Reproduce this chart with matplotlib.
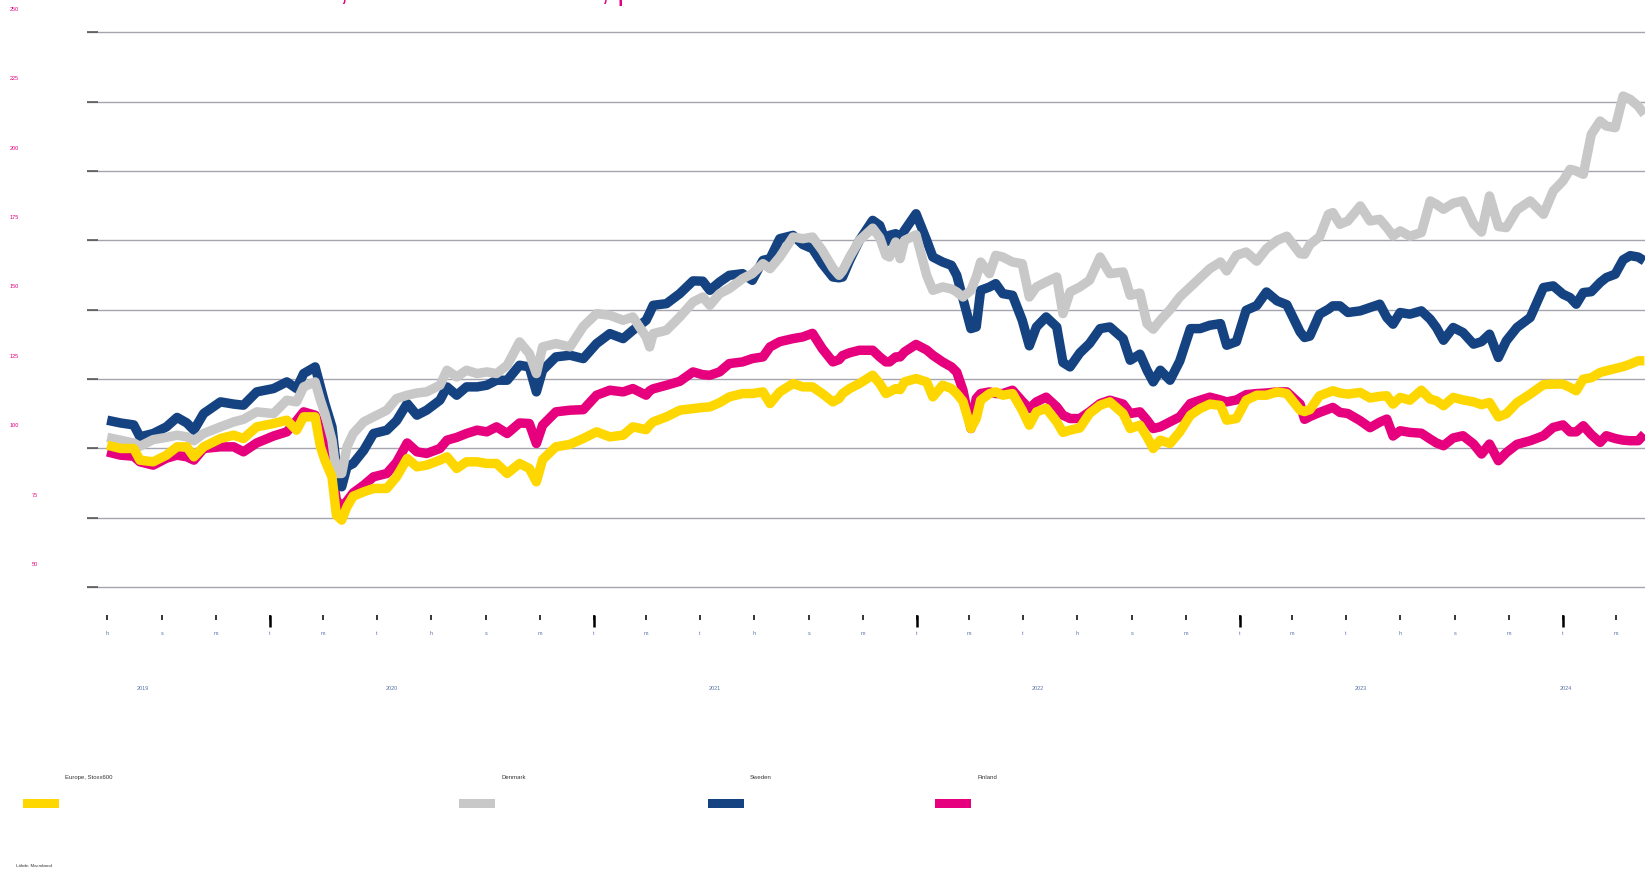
import pandas as pd
import matplotlib.pyplot as plt
import matplotlib.dates as mdates
from matplotlib.patches import Rectangle
from matplotlib.ticker import FuncFormatter
from matplotlib.transforms import blended_transform_factory

plt.rcParams['font.family'] = ['Liberation Sans', 'DejaVu Sans']

# roughly every two weeks
dates = [
    "2019-07-01", "2019-07-16", "2019-07-31", "2019-08-07", "2019-08-22", "2019-09-06",
    "2019-09-18", "2019-09-29", "2019-10-07", "2019-10-18", "2019-11-06", "2019-11-21",
    "2019-12-02", "2019-12-17", "2020-01-05", "2020-01-20", "2020-01-31", "2020-02-08",
    "2020-02-21", "2020-02-27", "2020-03-03", "2020-03-11", "2020-03-16", "2020-03-22",
    "2020-03-28", "2020-04-04", "2020-04-16", "2020-04-27", "2020-05-12", "2020-05-23",
    "2020-06-04", "2020-06-15", "2020-06-26", "2020-07-11", "2020-07-19", "2020-07-30",
    "2020-08-10", "2020-08-22", "2020-09-02", "2020-09-13", "2020-09-25", "2020-10-09",
    "2020-10-20", "2020-10-28", "2020-11-04", "2020-11-19", "2020-12-05", "2020-12-20",
    "2021-01-04", "2021-01-19", "2021-02-03", "2021-02-14", "2021-03-01", "2021-03-05",
    "2021-03-09", "2021-03-24", "2021-04-08", "2021-04-23", "2021-05-04", "2021-05-12",
    "2021-05-23", "2021-06-03", "2021-06-18", "2021-06-29", "2021-07-11", "2021-07-19",
    "2021-07-30", "2021-08-14", "2021-08-25", "2021-09-05", "2021-09-16", "2021-09-28",
    "2021-10-05", "2021-10-09", "2021-10-17", "2021-10-28", "2021-11-12", "2021-11-20",
    "2021-11-27", "2021-12-01", "2021-12-08", "2021-12-13", "2021-12-18", "2021-12-31",
    "2022-01-12", "2022-01-19", "2022-01-30", "2022-02-09", "2022-02-15", "2022-02-22",
    "2022-03-03", "2022-03-09", "2022-03-14", "2022-03-24", "2022-03-31", "2022-04-08",
    "2022-04-19", "2022-04-30", "2022-05-08", "2022-05-16", "2022-05-27", "2022-06-08",
    "2022-06-15", "2022-06-23", "2022-07-04", "2022-07-15", "2022-07-27", "2022-08-07",
    "2022-08-22", "2022-08-30", "2022-09-10", "2022-09-18", "2022-09-25", "2022-10-03",
    "2022-10-14", "2022-10-25", "2022-11-06", "2022-11-17", "2022-11-28", "2022-12-10",
    "2022-12-17", "2022-12-28", "2023-01-08", "2023-01-20", "2023-01-31", "2023-02-12",
    "2023-02-23", "2023-03-10", "2023-03-15", "2023-03-21", "2023-04-01", "2023-04-11",
    "2023-04-16", "2023-04-24", "2023-05-03", "2023-05-17", "2023-05-28", "2023-06-08",
    "2023-06-16", "2023-06-23", "2023-07-01", "2023-07-12", "2023-07-25", "2023-08-04",
    "2023-08-11", "2023-08-19", "2023-08-30", "2023-09-10", "2023-09-22", "2023-10-01",
    "2023-10-10", "2023-10-20", "2023-10-29", "2023-11-10", "2023-11-25", "2023-12-10",
    "2023-12-21", "2024-01-01", "2024-01-09", "2024-01-16", "2024-01-24", "2024-02-02",
    "2024-02-12", "2024-02-19", "2024-02-29", "2024-03-09", "2024-03-17", "2024-03-26",
    "2024-04-02",
]

europe = [
    101.2, 100, 100, 95.8, 95.2, 97.6, 100.6, 100.6, 97, 100.6, 103.6, 104.8,
    103.6, 107.8, 109, 110.2, 106.6, 111.4, 111.4, 100.6, 95.8, 89.8, 76, 74.2,
    79, 82.8, 84.4, 85.6, 85.6, 89.8, 96.4, 93.4, 94, 95.8, 97, 92.8,
    95.2, 95.2, 94.6, 94.6, 91, 94.6, 92.8, 88, 96, 100.6, 101.5, 103.6,
    106, 104.2, 104.8, 107.8, 106.8, 108.4, 109.6, 111.4, 113.8, 114.4, 114.8, 115,
    116.5, 118.6, 119.8, 119.8, 120.4, 116.2, 120.4, 123.4, 122.2, 122.2, 119.8, 116.8,
    118, 119.8, 121.6, 123.4, 126.4, 123.4, 119.8, 120.4, 121.6, 121.2, 124, 125.2,
    124, 118.6, 122.8, 121.6, 119.8, 117, 107.2, 110.8, 117.4, 119.8, 120.4, 119.2,
    119.8, 113.8, 108.4, 113.2, 114.5, 109.6, 105.8, 106.6, 107.4, 112.6, 115.6, 116.8,
    112.6, 107.2, 108.4, 104.2, 100, 103, 101.8, 106, 112, 114.4, 116, 115.5,
    110.2, 110.8, 117.4, 119.2, 119.2, 120.4, 119.8, 113.8, 113.3, 114, 119, 120.2,
    120.8, 120, 119.6, 120.2, 118.2, 118.8, 119, 116, 118.4, 117.4, 121, 117.8,
    117.2, 115.4, 118.4, 117.5, 116.8, 115.8, 116.6, 111.4, 112.5, 116.5, 119.6, 123,
    123.2, 123.2, 122, 120.8, 125, 125.5, 127.4, 128, 128.8, 129.5, 130.4, 131.6,
    131.6,
]

denmark = [
    104, 103, 102, 100.8, 103.2, 104, 104.8, 104.2, 102.8, 105.4, 107.8, 109.6,
    110.5, 113.2, 112.6, 117.4, 116.8, 122.2, 124, 117.4, 112.6, 103, 91, 91,
    100.6, 105.4, 109.6, 111.4, 113.8, 118, 119.2, 120, 120.4, 122.8, 128.2, 125.8,
    128.2, 127, 127.6, 127, 130, 138.4, 134.2, 127, 136.6, 137.8, 136.6, 144,
    148.6, 148, 146.2, 147.4, 140.2, 136.6, 141.4, 142.6, 147.4, 152.8, 154.6, 151.6,
    155.8, 157.6, 161.2, 163, 166.6, 164.8, 169, 176.2, 175.6, 176.2, 171.4, 165,
    162.4, 164, 169, 175, 179.4, 176, 169.6, 169, 174.4, 168.4, 175, 177,
    162.4, 157, 158.2, 157.5, 156.4, 154.6, 157, 161.8, 167.2, 163, 169.6, 169,
    167.2, 166.6, 154.6, 158.2, 160, 161.8, 148.6, 156.4, 158.2, 160.6, 169, 163,
    163.6, 155.2, 156, 145, 143, 146.2, 150, 154.6, 158.2, 161.5, 164.8, 167.2,
    164, 169.6, 170.8, 167.5, 172, 175, 176.5, 170.2, 170, 173.5, 176.3, 184.4,
    185, 180.8, 182, 187.4, 182, 182.6, 179.6, 176.6, 178.4, 176.5, 177.8, 189.2,
    188, 186.2, 188.4, 189.2, 181, 178, 191, 180, 179.6, 186, 189.2, 184.4,
    192.8, 196.4, 200.6, 200, 198.8, 213.2, 218, 216.2, 215.6, 227, 225.8, 223.4,
    220.4,
]

sweden = [
    110.2, 109.2, 108.5, 104.2, 105.4, 107.8, 111.2, 109.2, 106.6, 112.6, 116.8, 116,
    115.6, 120.4, 121.6, 124, 121.6, 127, 129.4, 122.2, 116.2, 107.8, 93.4, 86.2,
    93.4, 94.6, 99.4, 105.4, 106.6, 110, 116.2, 112, 113.8, 117.4, 122.2, 119.2,
    122.2, 122.2, 122.8, 124.6, 124.6, 130, 129.4, 120.4, 128.2, 133, 133.6, 132.4,
    137.8, 141.4, 139.6, 142.6, 146.2, 148.8, 151.6, 152.2, 155.8, 160.4, 160.3, 157,
    160, 162.4, 163, 160.6, 167.8, 168.4, 175.6, 176.8, 173.5, 172, 166.6, 161.8,
    161.5, 161.8, 167.8, 175, 182.2, 180.4, 174.4, 176.8, 177.4, 176, 178.6, 184.6,
    175, 169, 167.2, 166, 162.4, 154, 143.2, 143.8, 157, 158.2, 159.4, 155.8,
    155.2, 146.2, 137, 143.8, 147.4, 143.8, 131, 129.4, 134.4, 137.8, 143.2, 143.8,
    139.6, 131.8, 134, 128.2, 124, 128.2, 124.6, 131.5, 143.2, 143.2, 144.4, 145,
    137.2, 138.5, 149.8, 151.5, 156.4, 153.2, 151.8, 142, 140, 140.5, 148.4, 150.2,
    151.4, 151.4, 149, 149.6, 150.8, 152, 147.2, 144.8, 149, 148.4, 149.6, 146.6,
    143.6, 139, 143.6, 141.8, 137.6, 138.5, 141.2, 132.8, 138.8, 143.6, 147.2, 158,
    158.6, 155.6, 154.4, 152, 156.2, 156.5, 159.8, 161.6, 162.8, 168, 169.5, 169,
    167.6,
]

finland = [
    98.8, 97.6, 97.2, 95.2, 94, 96.5, 97.6, 97, 95.8, 100, 100.6, 100.6,
    98.8, 102, 104.5, 106, 110, 113.2, 112, 107.2, 103, 92, 81.4, 79,
    81, 84, 86.8, 89.8, 91, 95, 102, 98.8, 98.2, 100, 103, 104,
    105.4, 106.6, 106, 107.8, 105.4, 109.2, 109, 101.8, 108.4, 113.2, 113.8, 114,
    119.2, 121, 120.4, 121.6, 119.2, 120.8, 121.5, 122.8, 124.2, 127.6, 126.6, 126.4,
    127.6, 130.6, 131.2, 132.4, 133, 136.6, 138.5, 139.6, 140.2, 141.5, 136, 131.2,
    132, 133.5, 134.5, 135.4, 135.4, 133, 131.2, 131.2, 133, 133, 134.8, 137.5,
    135.5, 133.6, 131.2, 129.4, 127.5, 121, 107.2, 118, 119.8, 120.4, 119.8, 119.8,
    121, 117, 114.4, 116.8, 118.5, 115, 112, 110.8, 110.8, 113.2, 116.2, 117.4,
    116, 112.6, 113.2, 110.2, 107.2, 107.8, 109.6, 111.4, 116.2, 117.4, 118.5, 117.5,
    116.8, 117.5, 119.4, 119.8, 120, 120.4, 120.4, 116, 110.5, 111.5, 113, 114.2,
    114.8, 113, 112.6, 110, 107.5, 109.5, 110.6, 104.5, 106.4, 105.8, 105.5, 103.4,
    102, 101, 103.8, 104.6, 101.6, 98, 101.6, 95.6, 98.5, 101.5, 102.8, 104.6,
    107.6, 108.5, 106, 106, 108.2, 105, 102.2, 104.6, 103.6, 103, 102.8, 102.8,
    105.2,
]

series_names = ["Europe, Stoxx600", "Denmark", "Sweden", "Finland"]
series_values = [europe, denmark, sweden, finland]
colors = ["#FFD700", "#C8C8C8", "#154381", "#E6007E"]

y_ticks = [50, 75, 100, 125, 150, 175, 200, 225, 250]
month_letters = {1: "t", 3: "m", 5: "t", 7: "h", 9: "s", 11: "m"}
year_labels = ["2019", "2020", "2021", "2022", "2023", "2024"]
year_label_dates = ["2019-08-10", "2020-05-18", "2021-05-18", "2022-05-18", "2023-05-18", "2024-01-04"]

title = "Osakekurssit, indeksi 2019 = 100, paikallisessa valuutassa"
source = "Lähde: Macrobond"

W, H = 1645, 871
fig = plt.figure(figsize=(W / 100, H / 100), dpi=100)
ax = fig.add_axes([87 / W, 1 - 615 / H, 1558 / W, (615 - 31.4) / H])

x = pd.to_datetime(dates)

# Finland at the bottom, Europe on top
for i in reversed(range(len(series_names))):
    ax.plot(x, series_values[i], color=colors[i], lw=6.8,
            solid_joinstyle="round", solid_capstyle="butt", zorder=3 + (3 - i))

ax.set_xlim(pd.Timestamp("2019-06-08 05:00"), pd.Timestamp("2024-04-02 17:00"))
ax.set_ylim(40, 250.3)

for s in ax.spines.values():
    s.set_visible(False)

# y axis: gridlines, small inward ticks, labels drawn separately
ax.set_yticks(y_ticks)
ax.set_yticklabels([])
ax.tick_params(axis="y", direction="in", length=8, width=1.1, color="#505050")
ax.yaxis.grid(True, color="#A5A5B0", lw=1.0)
ax.set_axisbelow(True)

trans_y = blended_transform_factory(fig.transFigure, ax.transData)
for v in y_ticks:
    xpos = 14 / W if v >= 100 else 35 / W
    ax.text(xpos, v + 8.2, str(v), transform=trans_y, ha="center", va="center",
            fontsize=4, color="#E6007E", clip_on=False)

# x axis: bimonthly letters, long ticks at year start
ax.xaxis.set_major_locator(mdates.MonthLocator(bymonth=[1, 3, 5, 7, 9, 11]))
ax.xaxis.set_major_formatter(FuncFormatter(
    lambda val, pos: month_letters.get(mdates.num2date(val).month, "")))
ax.xaxis.set_minor_locator(mdates.YearLocator())
ax.xaxis.remove_overlapping_locs = False
ax.tick_params(axis="x", which="major", length=3.6, width=1.1, color="black",
               pad=8, labelsize=4, labelcolor="#5A74A8")
ax.tick_params(axis="x", which="minor", length=8.6, width=1.8, color="black")

trans_x = blended_transform_factory(ax.transData, fig.transFigure)
for lab, d in zip(year_labels, year_label_dates):
    ax.text(pd.Timestamp(d), 1 - 689 / H, lab, transform=trans_x, ha="center",
            va="center", fontsize=4, color="#5A74A8", clip_on=False)

# legend along the bottom
swatch_left = [23, 459, 708, 935]
for name, col, x0 in zip(series_names, colors, swatch_left):
    fig.add_artist(Rectangle((x0 / W, 1 - 808 / H), 36 / W, 9 / H,
                             transform=fig.transFigure, color=col, lw=0))
    fig.text((x0 + 42) / W, 1 - 777 / H, name, fontsize=4.3, color="#333333",
             ha="left", va="center")

fig.text(16 / W, 1 - 866 / H, source, fontsize=3.2, color="#333333",
         ha="left", va="center")

# title sits mostly above the canvas, as in the original
fig.text(172 / W, 1 - 0.2 / H, title, fontsize=21, color="#E6007E",
         ha="left", va="baseline")

fig.savefig("out.png", dpi=100)
